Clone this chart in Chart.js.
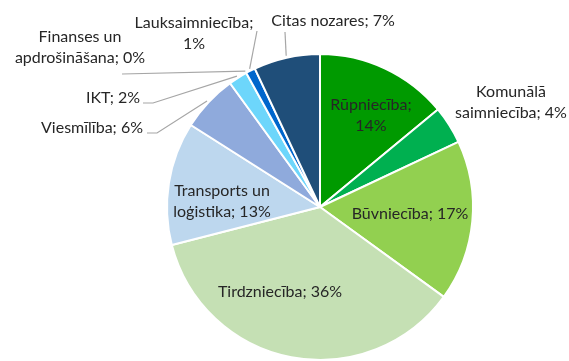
<!DOCTYPE html>
<html>
<head>
<meta charset="utf-8">
<script src="https://cdn.jsdelivr.net/npm/chart.js@4.4.1/dist/chart.umd.min.js"></script>
<style>
  body { margin: 0; background: #fff; }
  #wrap { position: relative; width: 569px; height: 361px; }
</style>
</head>
<body>
<div id="wrap"><canvas id="sectorChart"></canvas></div>
<script>
const sectors = [
  "Rūpniecība",
  "Komunālā saimniecība",
  "Būvniecība",
  "Tirdzniecība",
  "Transports un loģistika",
  "Viesmīlība",
  "IKT",
  "Finanses un apdrošināšana",
  "Lauksaimniecība",
  "Citas nozares",
];
const shares = [14, 4, 17, 36, 13, 6, 2, 0, 1, 7];
const colors = [
  "#009a00", "#00b050", "#92d050", "#c5e0b4", "#bdd7ee",
  "#8faadc", "#6dd6fb", "#2e75b6", "#0066cc", "#1f4e79",
];

// where each label goes: inside labels sit at a point, outside ones get a leader line
// wrap = number of words on the first line
const labelSpots = [
  { x: 371, y: 105, wrap: 1 },
  { x: 511, y: 92, wrap: 1 },
  { x: 410, y: 214 },
  { x: 280, y: 292 },
  { x: 222, y: 191, wrap: 2 },
  { x: 92, y: 128, leader: [[147, 133], [157, 133]] },
  { x: 113, y: 98, leader: [[143, 103], [153, 103]] },
  { x: 80, y: 37, wrap: 2, leader: [[122, 74]] },
  { x: 194, y: 23, wrap: 1, leader: [[257, 31]] },
  { x: 333, y: 21, leader: [[285, 32]] },
];

const sliceLabels = {
  id: "sliceLabels",
  afterDatasetsDraw(chart) {
    const ctx = chart.ctx;
    const arcs = chart.getDatasetMeta(0).data;
    ctx.save();
    arcs.forEach((arc, i) => {
      const spot = labelSpots[i];
      if (spot.leader) {
        const mid = (arc.startAngle + arc.endAngle) / 2;
        const r = arc.outerRadius + 2;
        ctx.strokeStyle = "#a6a6a6";
        ctx.lineWidth = 1.2;
        ctx.beginPath();
        spot.leader.forEach((p, k) => (k ? ctx.lineTo(p[0], p[1]) : ctx.moveTo(p[0], p[1])));
        ctx.lineTo(arc.x + Math.cos(mid) * r, arc.y + Math.sin(mid) * r);
        ctx.stroke();
      }
      const words = (sectors[i] + "; " + shares[i] + "%").split(" ");
      const lines = spot.wrap
        ? [words.slice(0, spot.wrap).join(" "), words.slice(spot.wrap).join(" ")]
        : [words.join(" ")];
      ctx.font = "16px Lato";
      ctx.fillStyle = "#262626";
      ctx.textAlign = "center";
      ctx.textBaseline = "middle";
      lines.forEach((t, k) => ctx.fillText(t, spot.x, spot.y + k * 21));
    });
    ctx.restore();
  },
};

new Chart(document.getElementById("sectorChart"), {
  type: "pie",
  data: {
    labels: sectors,
    datasets: [
      {
        data: shares,
        backgroundColor: colors,
        borderColor: "#ffffff",
        borderWidth: 2,
      },
    ],
  },
  options: {
    responsive: true,
    maintainAspectRatio: false,
    animation: false,
    layout: { padding: { left: 71, top: 53, right: 0, bottom: 0 } },
    plugins: {
      legend: { display: false },
      tooltip: { enabled: false },
    },
  },
  plugins: [sliceLabels],
});
</script>
</body>
</html>
